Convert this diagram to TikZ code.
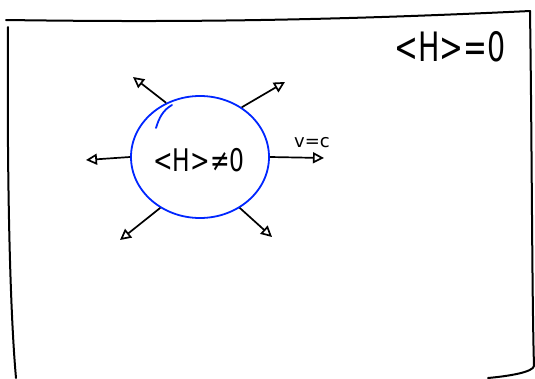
\documentclass[tikz,border=0pt]{standalone}
\usepackage{fontspec}
\setmainfont{DejaVu Sans}
\usetikzlibrary{arrows.meta,shapes.geometric}
\begin{document}
\begin{tikzpicture}[x=1pt,y=-1pt,
  frame/.style={line width=2pt,line cap=round,black},
  ray/.style={line width=1.7pt,-{Triangle[open,length=11pt,width=11pt]}},
  lbl/.style={inner sep=0pt},
]
\useasboundingbox (0,0) rectangle (535,378);
% frame
\draw[frame] (6,20) .. controls (150,22) and (300,22) .. (530,11);
\draw[frame] (8,27) .. controls (7,150) and (9,300) .. (16,378);
\draw[frame] (530,11) .. controls (532,150) and (532,300) .. (534,366) .. controls (533,372) and (510,376) .. (488,378);
% blob
\node[ellipse,draw=blue!85!cyan,line width=1.8pt,minimum width=138pt,minimum height=122pt,inner sep=0pt] (blob) at (200,157) {};
\draw[blue!85!cyan,line width=1.8pt,line cap=round] (156,128) .. controls (159,118) and (163,110) .. (172,105);
\node[lbl,font=\fontsize{26pt}{26pt}\selectfont] (inner) at (199,160) {\scalebox{0.9}[1.2]{<H>≠0}};
\node[lbl,font=\fontsize{30pt}{30pt}\selectfont] (outer) at (450,47) {\scalebox{0.95}[1.35]{<H>=0}};
% ray end points
\coordinate (eUL) at (133,77);
\coordinate (eUR) at (285,82);
\coordinate (eR)  at (324,158);
\coordinate (eL)  at (86,160);
\coordinate (eDL) at (120,240);
\coordinate (eDR) at (272,237);
\draw[ray] (blob.122) -- (eUL);
\draw[ray] (blob.50) -- (eUR);
\draw[ray] (blob.east) -- (eR);
\draw[ray] (blob.west) -- (eL);
\draw[ray] (blob.-128) -- (eDL);
\draw[ray] (blob.-52) -- (eDR);
\node[inner sep=0pt,font=\fontsize{18pt}{18pt}\selectfont] (vc) at (312,143) {v=c};
\end{tikzpicture}
\end{document}
